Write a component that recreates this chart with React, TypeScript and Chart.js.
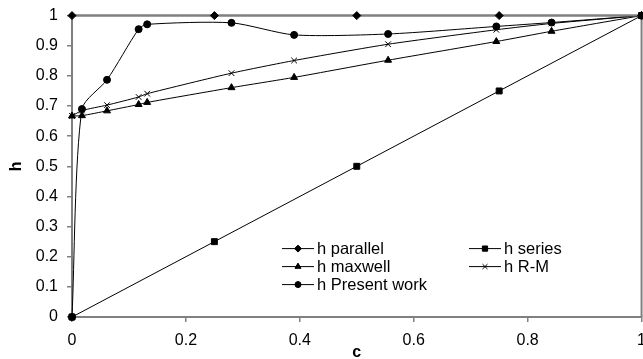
import React, { useEffect, useRef } from 'react';
import { Chart, registerables } from 'chart.js';
import { drawPoint } from 'chart.js/helpers';

Chart.register(...registerables);

// c values shared by the computed models
const cValues = [0, 0.0175, 0.0615, 0.117, 0.132, 0.28, 0.39, 0.555, 0.745, 0.842, 1];
// c values for the bound models
const boundC = [0, 0.25, 0.5, 0.75, 1];

const hParallel = [1, 1, 1, 1, 1];
const hSeries = [0, 0.25, 0.5, 0.75, 1];
const hMaxwell = [0.667, 0.668, 0.684, 0.705, 0.712, 0.761, 0.795, 0.852, 0.914, 0.948, 1];
const hRM = [0.667, 0.685, 0.703, 0.73, 0.741, 0.809, 0.851, 0.905, 0.953, 0.974, 1];
const hPresent = [0, 0.69, 0.787, 0.955, 0.971, 0.976, 0.936, 0.939, 0.964, 0.977, 1];

const seriesLabels = ['h parallel', 'h series', 'h maxwell', 'h R-M', 'h Present work'];

const FONT = '"Liberation Sans", Arial, sans-serif';
const GRAY = '#808080';

const pts = (xs: number[], ys: number[]) => xs.map((x, i) => ({ x, y: ys[i] }));

const framePlugin = {
  id: 'frame',
  beforeDatasetsDraw(chart: any) {
    const { ctx, chartArea } = chart;
    ctx.save();
    ctx.strokeStyle = GRAY;
    ctx.lineWidth = 2;
    ctx.beginPath();
    ctx.moveTo(chartArea.left, chartArea.top);
    ctx.lineTo(chartArea.right, chartArea.top);
    ctx.lineTo(chartArea.right, chartArea.bottom);
    ctx.stroke();
    ctx.restore();
  },
};

const legendPlugin = {
  id: 'inlineLegend',
  afterDraw(chart: any) {
    const { ctx, chartArea } = chart;
    const slots = [
      [210, 233],
      [397, 233],
      [210, 251],
      [397, 251],
      [210, 269],
    ];
    ctx.save();
    ctx.font = `16.5px ${FONT}`;
    ctx.textBaseline = 'middle';
    ctx.textAlign = 'left';
    chart.data.datasets.forEach((ds: any, i: number) => {
      const x = chartArea.left + slots[i][0];
      const y = chartArea.top + slots[i][1];
      ctx.strokeStyle = '#000';
      ctx.lineWidth = 1;
      ctx.beginPath();
      ctx.moveTo(x, y);
      ctx.lineTo(x + 32, y);
      ctx.stroke();
      ctx.fillStyle = '#000';
      ctx.strokeStyle = '#000';
      drawPoint(ctx, { pointStyle: ds.pointStyle, rotation: 0, radius: Math.max(2.5, ds.pointRadius - 0.5), borderWidth: 1 }, x + 16, y);
      ctx.fillStyle = '#000';
      ctx.fillText(ds.label, x + 35, y + 1);
    });
    ctx.restore();
  },
};

export default function App() {
  const ref = useRef<HTMLCanvasElement | null>(null);

  useEffect(() => {
    if (!ref.current) return;
    const common = {
      borderColor: '#000',
      backgroundColor: '#000',
      pointBorderColor: '#000',
      pointBackgroundColor: '#000',
      borderWidth: 1,
      pointBorderWidth: 1,
      showLine: true,
      clip: false as any,
    };
    const chart = new Chart(ref.current, {
      type: 'scatter',
      data: {
        datasets: [
          { ...common, label: seriesLabels[0], data: pts(boundC, hParallel), pointStyle: 'rectRot', pointRadius: 4, borderColor: GRAY, borderWidth: 2, tension: 0 },
          { ...common, label: seriesLabels[1], data: pts(boundC, hSeries), pointStyle: 'rect', pointRadius: 4.2, tension: 0 },
          { ...common, label: seriesLabels[2], data: pts(cValues, hMaxwell), pointStyle: 'triangle', pointRadius: 4, tension: 0.2 },
          { ...common, label: seriesLabels[3], data: pts(cValues, hRM), pointStyle: 'crossRot', pointRadius: 4, tension: 0.2 },
          { ...common, label: seriesLabels[4], data: pts(cValues, hPresent), pointStyle: 'circle', pointRadius: 3.5, tension: 0.25 },
        ],
      },
      options: {
        animation: false,
        responsive: false,
        events: [],
        layout: { padding: { top: 10, right: 7.5, left: 0, bottom: 0 } },
        plugins: { legend: { display: false }, tooltip: { enabled: false } },
        scales: {
          x: {
            type: 'linear',
            min: 0,
            max: 1,
            afterFit: (s: any) => { s.height = 45; },
            ticks: {
              stepSize: 0.2,
              padding: 9,
              color: '#000',
              font: { family: FONT, size: 16 },
              maxRotation: 0,
              callback: (v: any) => String(Number(Number(v).toFixed(1))),
            },
            grid: { drawOnChartArea: false, drawTicks: true, tickLength: 5, color: GRAY, lineWidth: 1.5 },
            border: { display: true, color: GRAY, width: 2 },
            title: { display: true, text: 'c', color: '#000', font: { family: FONT, size: 16, weight: 'bold' }, padding: { top: 0, bottom: 0 } },
          },
          y: {
            type: 'linear',
            min: 0,
            max: 1,
            afterFit: (s: any) => { s.width = 72; },
            ticks: {
              stepSize: 0.1,
              padding: 9,
              color: '#000',
              font: { family: FONT, size: 16 },
              callback: (v: any) => String(Number(Number(v).toFixed(1))),
            },
            grid: { drawOnChartArea: false, drawTicks: true, tickLength: 5, color: GRAY, lineWidth: 1.5 },
            border: { display: true, color: GRAY, width: 2 },
            title: { display: true, text: 'h', color: '#000', font: { family: FONT, size: 16, weight: 'bold' }, padding: { top: 7, bottom: 0 } },
          },
        },
      },
      plugins: [framePlugin, legendPlugin],
    } as any);
    return () => chart.destroy();
  }, []);

  return (
    <div style={{ position: 'fixed', left: 0, top: 0, width: 643, height: 359, overflow: 'hidden', background: '#fff' }}>
      <canvas ref={ref} width={655} height={365} style={{ display: 'block', marginTop: -3 }} />
    </div>
  );
}
